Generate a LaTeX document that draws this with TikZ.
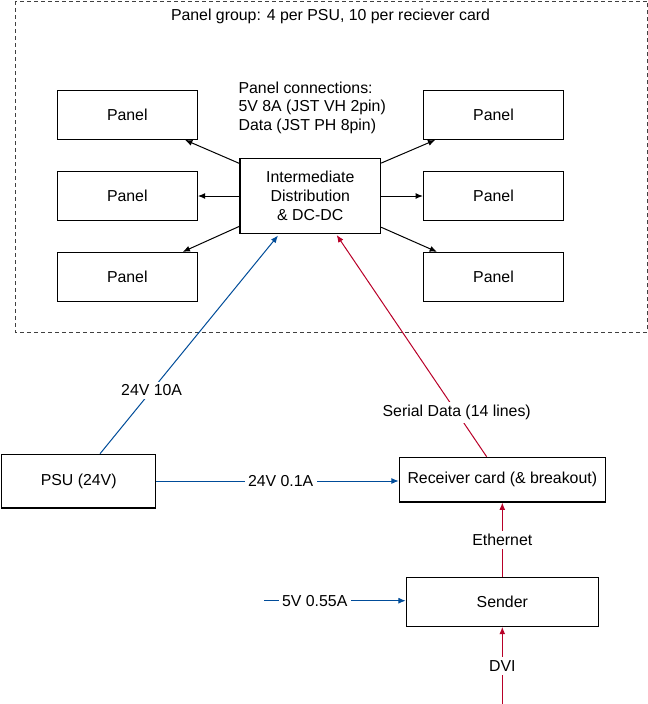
\documentclass[tikz,border=0pt]{standalone}
\usepackage{fontspec}
\setmainfont{Liberation Sans}
\usetikzlibrary{arrows.meta}
\definecolor{pwrblue}{RGB}{0,76,153}
\definecolor{datared}{RGB}{184,0,40}
\tikzset{
  box/.style={draw=black, line width=0.9pt, fill=white, inner sep=0pt, align=center},
  panelbox/.style={box, minimum width=105pt, minimum height=36.5pt},
  lbl/.style={fill=white, inner sep=2.5pt, align=center},
  arr/.style={line width=0.75pt, -{Latex[length=5.5pt,width=4.5pt]}},
  blk/.style={arr, draw=black},
  pwr/.style={arr, draw=pwrblue, -{Latex[length=5.5pt,width=4.5pt,fill=pwrblue]}},
  dat/.style={arr, draw=datared, -{Latex[length=5.5pt,width=4.5pt,fill=datared]}},
  grp/.style={draw=black!75, line width=0.75pt, dash pattern=on 3pt off 2.25pt}
}
\begin{document}
\begin{tikzpicture}[x=0.75pt,y=-0.75pt,font=\fontsize{11.9}{13.8}\selectfont]
\useasboundingbox (0,0) rectangle (648,704);
% group
\draw[grp] (15,1) rectangle (647.3,332);
\node[inner sep=0pt] (title) at (330.5,16.5) {Panel group: 4 per PSU, 10 per reciever card};
% panels
\node[panelbox] (p1) at (127.3,115) {Panel};
\node[panelbox] (p2) at (127.3,196) {Panel};
\node[panelbox] (p3) at (127.3,276.8) {Panel};
\node[panelbox] (p4) at (493.5,115) {Panel};
\node[panelbox] (p5) at (493.5,196) {Panel};
\node[panelbox] (p6) at (493.5,276.8) {Panel};
% intermediate
\node[box, minimum width=105.5pt, minimum height=56pt, font=\fontsize{11.9}{14.1}\selectfont] (inter) at (310.3,196) {Intermediate\\Distribution\\\& DC-DC};
\node[anchor=west, inner sep=0pt, align=left] (conn) at (238.3,107.5) {Panel connections:\\5V 8A (JST VH 2pin)\\Data (JST PH 8pin)};
% arrows to panels
\draw[blk] ([yshift=-4pt]inter.north west) -- (p1);
\draw[blk] (inter.west) -- (p2);
\draw[blk] ([yshift=5.7pt]inter.south west) -- (p3);
\draw[blk] ([yshift=-3.75pt]inter.north east) -- (p4);
\draw[blk] (inter.east) -- (p5);
\draw[blk] ([yshift=5pt]inter.south east) -- (p6);
% lower boxes
\node[box, minimum width=115.5pt, minimum height=40.3pt] (psu) at (78.7,481.2) {PSU (24V)};
\node[box, minimum width=154.5pt, minimum height=33.5pt] (rec) at (502.3,479.7) {Receiver card (\& breakout)};
\node[box, minimum width=144pt, minimum height=36.75pt] (snd) at (502.3,601.8) {Sender};
\coordinate (v5) at (264,600.7);
\coordinate (dvi) at (502.3,704);
% connections
\draw[pwr] ([xshift=16pt]psu.north) -- node[lbl, pos=0.29] {24V 10A} ([xshift=-24.2pt,yshift=-1.2pt]inter.south);
\draw[dat] ([xshift=-11.7pt]rec.north) -- node[lbl, pos=0.2] {Serial Data (14 lines)} ([xshift=19.8pt,yshift=-0.8pt]inter.south);
\draw[pwr] (psu.east |- 0,481) -- node[lbl, pos=0.513] {24V 0.1A} (rec.west |- 0,481);
\draw[dat] (snd.north) -- node[lbl] {Ethernet} (rec.south);
\draw[dat] (dvi) -- node[lbl, pos=0.49] {DVI} (snd.south);
\draw[pwr] (v5) -- node[lbl, pos=0.358] {5V 0.55A} (snd.west |- v5);
\end{tikzpicture}
\end{document}
